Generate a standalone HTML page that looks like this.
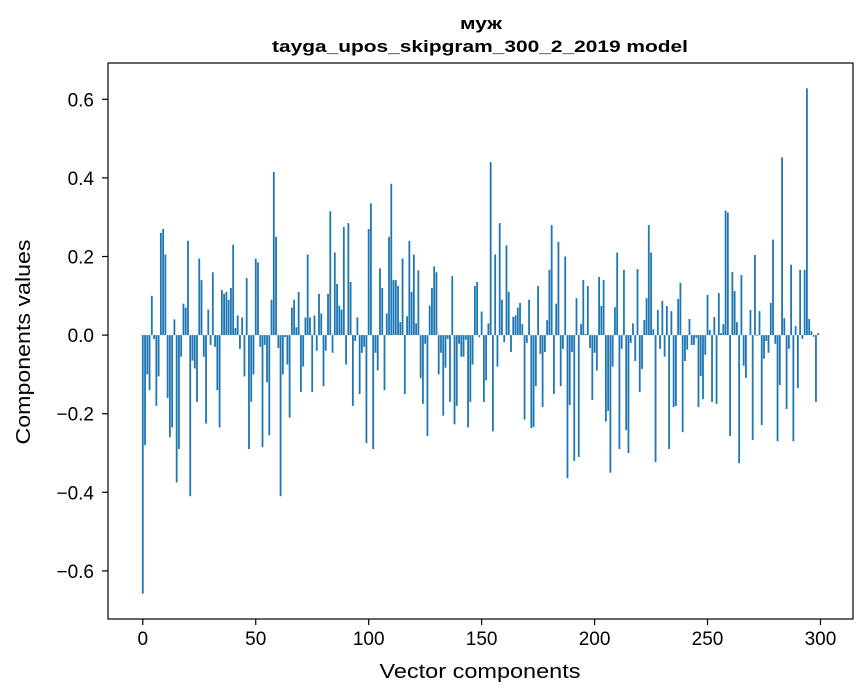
<!DOCTYPE html>
<html><head><meta charset="utf-8"><style>
html,body{margin:0;padding:0;background:#fff;}
svg{display:block;font-family:"Liberation Sans","DejaVu Sans",sans-serif;}
</style></head><body>
<svg id="chart" width="867" height="696" viewBox="0 0 867 696" xmlns="http://www.w3.org/2000/svg">
<rect width="867" height="696" fill="#fff"/>
<text x="481" y="29" text-anchor="middle" font-size="17" font-weight="bold" textLength="42" lengthAdjust="spacingAndGlyphs">муж</text>
<text x="480" y="52" text-anchor="middle" font-size="17" font-weight="bold" textLength="416" lengthAdjust="spacingAndGlyphs">tayga_upos_skipgram_300_2_2019 model</text>
<g id="bars"></g>
<g id="axes"></g>
<rect x="108" y="63" width="745" height="556" fill="none" stroke="#000" stroke-width="1.2"/>
<text x="480" y="678" text-anchor="middle" font-size="20" textLength="201" lengthAdjust="spacingAndGlyphs">Vector components</text>
<text transform="translate(30,342) rotate(-90)" text-anchor="middle" font-size="20" textLength="205" lengthAdjust="spacingAndGlyphs">Components values</text>
</svg>
<script>
const values = [
-0.658,-0.28,-0.10,-0.14,0.10,-0.01,-0.18,-0.105,0.26,0.27,
0.205,-0.16,-0.26,-0.235,0.04,-0.375,-0.29,-0.055,0.08,0.07,
0.24,-0.41,-0.065,-0.085,-0.17,0.195,0.14,-0.055,-0.225,0.065,
-0.025,0.16,-0.03,-0.14,-0.235,0.115,0.105,0.11,0.09,0.12,
0.23,0.018,0.05,-0.035,0.045,-0.105,0.145,-0.29,-0.17,-0.10,
0.195,
0.185,-0.03,-0.285,-0.025,-0.12,-0.255,0.09,0.415,0.25,-0.033,
-0.41,-0.10,-0.005,-0.075,-0.21,0.07,0.09,0.02,0.11,-0.145,
-0.08,0.045,0.205,0.045,-0.145,0.05,-0.04,0.105,0.055,-0.13,
-0.04,0.105,0.315,-0.045,0.21,0.13,0.075,0.065,0.275,-0.075,
0.285,0.135,-0.18,-0.015,0.045,-0.15,-0.045,-0.03,-0.275,0.27,
0.335,
-0.29,-0.045,-0.09,0.17,0.12,-0.14,0.055,0.25,0.385,0.14,
0.14,0.125,0.033,0.195,-0.15,0.048,0.24,0.11,0.205,0.03,
0.165,-0.11,-0.175,-0.022,-0.257,0.075,0.12,0.175,0.16,-0.10,
-0.045,-0.205,-0.083,-0.01,-0.17,0.15,-0.227,-0.18,-0.022,-0.055,
-0.055,-0.012,-0.235,-0.17,-0.075,0.125,0.135,-0.005,0.06,-0.17,
-0.115,0.03,0.44,-0.245,0.205,-0.08,0.285,0.09,-0.018,0.228,
0.11,-0.043,0.046,0.05,0.07,0.082,0.028,-0.215,-0.02,0.09,
-0.237,-0.234,-0.13,0.125,-0.048,-0.183,-0.043,0.038,0.166,0.28,
-0.15,0.08,0.237,-0.13,-0.035,0.2,-0.364,-0.178,-0.043,-0.32,
0.094,-0.31,0.028,0.14,0.003,0.125,-0.033,-0.165,-0.045,-0.09,
0.148,0.074,0.14,-0.22,-0.193,-0.35,-0.08,0.071,0.21,-0.29,
-0.035,0.166,-0.242,-0.30,-0.02,0.03,-0.066,0.168,-0.145,-0.086,
0.038,0.094,0.28,0.21,0.015,-0.323,0.064,-0.035,0.087,-0.055,
0.074,-0.29,0.061,-0.183,-0.18,0.092,0.133,-0.247,-0.066,-0.037,
0.041,-0.025,-0.025,-0.007,-0.183,-0.104,-0.163,-0.05,
0.102,0.013,-0.17,0.046,-0.175,0.107,0.005,0.028,0.317,0.312,
-0.257,0.161,0.112,0.033,-0.326,0.153,-0.078,-0.109,0.0,0.064,
-0.267,0.204,-0.002,0.061,-0.229,-0.06,-0.015,-0.045,0.082,0.243,
-0.022,-0.27,-0.127,0.452,0.043,-0.188,-0.035,0.179,-0.27,0.023,
-0.135,0.166,-0.01,0.166,0.628,0.041,0.01,-0.004,-0.17,0.005
];
const xTicks = [0,50,100,150,200,250,300];
const yTicks = [-0.6,-0.4,-0.2,0.0,0.2,0.4,0.6];
const yTickLabels = ["\u22120.6","\u22120.4","\u22120.2","0.0","0.2","0.4","0.6"];

const PL=108, PR=853, PT=63, PB=619;
const XMIN=-15.4, XMAX=314.4, YMIN=-0.7224, YMAX=0.6924;
const sx = v => PL + (v - XMIN) / (XMAX - XMIN) * (PR - PL);
const sy = v => PB - (v - YMIN) / (YMAX - YMIN) * (PB - PT);
const NS = "http://www.w3.org/2000/svg";
const barsG = document.getElementById('bars');
const axesG = document.getElementById('axes');

values.forEach((v, i) => {
  const r = document.createElementNS(NS, 'rect');
  const x0 = sx(i - 0.4), x1 = sx(i + 0.4);
  const y0 = sy(Math.max(v, 0)), y1 = sy(Math.min(v, 0));
  r.setAttribute('x', x0);
  r.setAttribute('width', x1 - x0);
  r.setAttribute('y', y0);
  r.setAttribute('height', Math.max(y1 - y0, 0.3));
  r.setAttribute('fill', '#1f77b4');
  
  
  barsG.appendChild(r);
});

xTicks.forEach(t => {
  const x = sx(t);
  const l = document.createElementNS(NS, 'line');
  l.setAttribute('x1', x); l.setAttribute('x2', x);
  l.setAttribute('y1', PB); l.setAttribute('y2', PB + 6);
  l.setAttribute('stroke', '#000'); l.setAttribute('stroke-width', '1.2');
  
  
  axesG.appendChild(l);
  const tx = document.createElementNS(NS, 'text');
  tx.setAttribute('x', x); tx.setAttribute('y', PB + 26);
  tx.setAttribute('text-anchor', 'middle'); tx.setAttribute('font-size', '19');
  tx.textContent = String(t);
  
  
  axesG.appendChild(tx);
});

yTicks.forEach((t, k) => {
  const y = sy(t);
  const l = document.createElementNS(NS, 'line');
  l.setAttribute('x1', PL - 6); l.setAttribute('x2', PL);
  l.setAttribute('y1', y); l.setAttribute('y2', y);
  l.setAttribute('stroke', '#000'); l.setAttribute('stroke-width', '1.2');
  
  
  axesG.appendChild(l);
  const tx = document.createElementNS(NS, 'text');
  tx.setAttribute('x', PL - 14); tx.setAttribute('y', y + 7);
  tx.setAttribute('text-anchor', 'end'); tx.setAttribute('font-size', '19');
  tx.textContent = yTickLabels[k];
  
  
  axesG.appendChild(tx);
});
</script>
</body></html>
